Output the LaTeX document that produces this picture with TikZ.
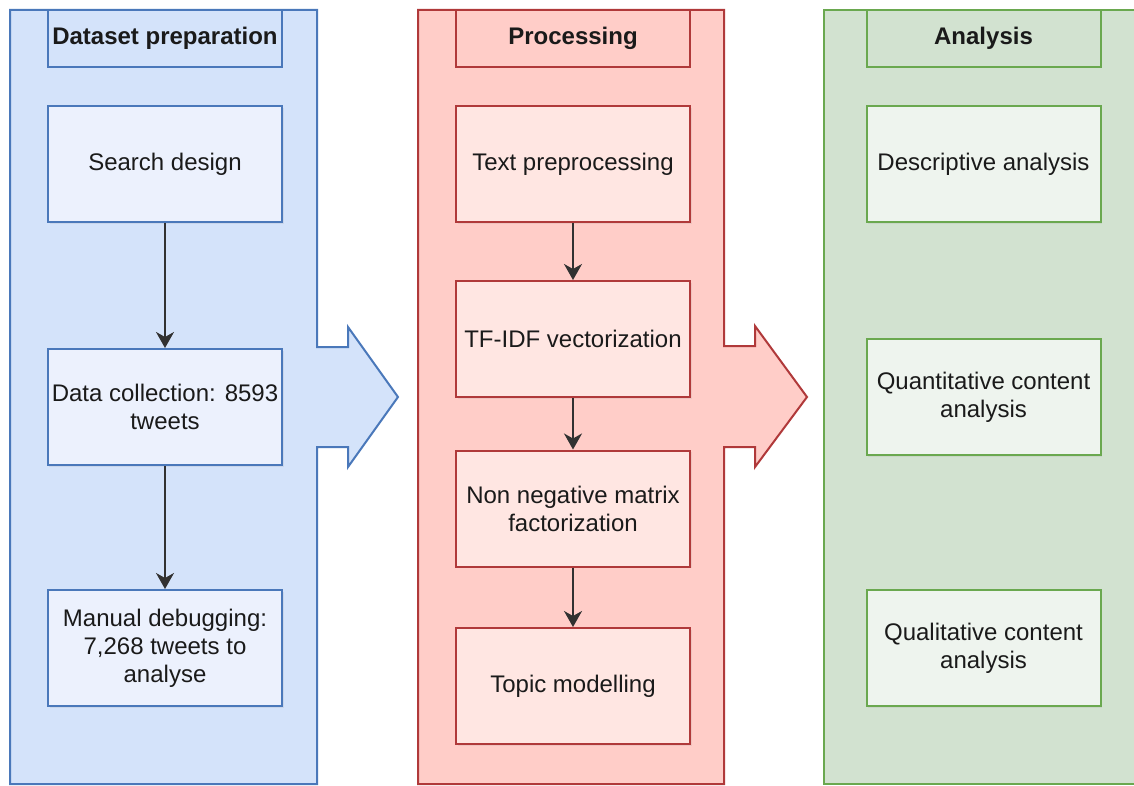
\documentclass[tikz,border=0pt]{standalone}
\usepackage{fontspec}
\setmainfont{Liberation Sans}
\usetikzlibrary{arrows.meta,shadows}

\definecolor{bluefill}{HTML}{D4E3FA}
\definecolor{bluebox}{HTML}{ECF1FD}
\definecolor{bluedraw}{HTML}{4A78BA}
\definecolor{redfill}{HTML}{FFCDC8}
\definecolor{redbox}{HTML}{FFE6E2}
\definecolor{reddraw}{HTML}{B0393A}
\definecolor{greenfill}{HTML}{D2E2D0}
\definecolor{greenbox}{HTML}{EEF4EE}
\definecolor{greendraw}{HTML}{6AA84F}
\definecolor{ink}{HTML}{1A1A1A}

\tikzset{
  panel/.style={line width=1pt, line join=miter},
  stagebox/.style={draw, line width=1pt, minimum width=117pt, minimum height=58pt,
    align=center, text=ink, font=\fontsize{12}{14}\selectfont, inner sep=2pt,
    drop shadow={opacity=0.12, shadow xshift=0.8pt, shadow yshift=-0.8pt}},
  headbox/.style={draw, line width=1pt, minimum width=117pt, minimum height=28.5pt,
    align=center, text=ink, font=\fontsize{12}{14}\selectfont\bfseries, inner sep=2pt},
  flow/.style={draw=ink!90, line width=1pt, -{Stealth[length=8pt,width=9pt,inset=2.5pt]}}
}

\begin{document}
\begin{tikzpicture}[x=0.5pt, y=-0.5pt]
  \clip (0,0) rectangle (1134,786);
  \fill[white] (0,0) rectangle (1134,786);

  % stage panels with their arrow outlets
  \draw[panel, draw=bluedraw, fill=bluefill]
    (10,10) -- (317,10) -- (317,347) -- (348,347) -- (348,327) -- (398,397)
    -- (348,467) -- (348,447) -- (317,447) -- (317,784) -- (10,784) -- cycle;
  \draw[panel, draw=reddraw, fill=redfill]
    (418,10) -- (724,10) -- (724,346) -- (755,346) -- (755,326) -- (807,397)
    -- (755,467) -- (755,447) -- (724,447) -- (724,784) -- (418,784) -- cycle;
  \draw[panel, draw=greendraw, fill=greenfill]
    (824,10) -- (1160,10) -- (1160,784) -- (824,784) -- cycle;

  % headers
  \node[headbox, draw=bluedraw, fill=bluefill] (hdata) at (165,38.5) {Dataset preparation};
  \node[headbox, draw=reddraw, fill=redfill] (hproc) at (573,38.5) {Processing};
  \node[headbox, draw=greendraw, fill=greenfill] (hanal) at (983.5,38.5) {Analysis};

  % dataset preparation
  \node[stagebox, draw=bluedraw, fill=bluebox] (search) at (165,164) {Search design};
  \node[stagebox, draw=bluedraw, fill=bluebox] (collect) at (165,407) {Data collection: 8593\\tweets};
  \node[stagebox, draw=bluedraw, fill=bluebox] (debug) at (165,648) {Manual debugging:\\7,268 tweets to\\analyse};

  % processing
  \node[stagebox, draw=reddraw, fill=redbox] (prep) at (573,164) {Text preprocessing};
  \node[stagebox, draw=reddraw, fill=redbox] (tfidf) at (573,339) {TF-IDF vectorization};
  \node[stagebox, draw=reddraw, fill=redbox] (nmf) at (573,508.5) {Non negative matrix\\factorization};
  \node[stagebox, draw=reddraw, fill=redbox] (topic) at (573,686) {Topic modelling};

  % analysis
  \node[stagebox, draw=greendraw, fill=greenbox] (desc) at (983.5,164) {Descriptive analysis};
  \node[stagebox, draw=greendraw, fill=greenbox] (quant) at (983.5,397) {Quantitative content\\analysis};
  \node[stagebox, draw=greendraw, fill=greenbox] (qual) at (983.5,648) {Qualitative content\\analysis};

  % flow inside the stages
  \draw[flow] (search) -- (collect);
  \draw[flow] (collect) -- (debug);
  \draw[flow] (prep) -- (tfidf);
  \draw[flow] (tfidf) -- (nmf);
  \draw[flow] (nmf) -- (topic);
\end{tikzpicture}
\end{document}
